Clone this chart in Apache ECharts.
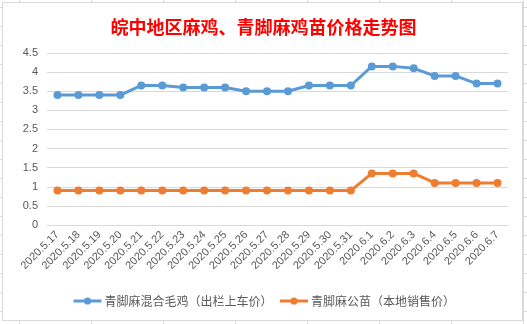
<!DOCTYPE html>
<html>
<head>
<meta charset="utf-8">
<script src="https://cdn.jsdelivr.net/npm/echarts@6/dist/echarts.min.js"></script>
<style>
html,body{margin:0;padding:0;width:527px;height:324px;overflow:hidden;}
body{
  background-color:#fff;
  background-image:
    linear-gradient(to bottom, #dadada 1px, transparent 1px),
    linear-gradient(to right, #dadada 1px, transparent 1px);
  background-size:100% 19px, 72px 100%;
  background-position:0 7px, 19px 0;
}
#frame{position:absolute;left:2px;top:2px;width:519px;height:317px;background:#fff;border:1px solid #d9d9d9;}
#chart{position:absolute;left:0;top:0;width:527px;height:324px;}
</style>
</head>
<body>
<div id="frame"></div>
<div id="chart"></div>
<script>
const titleText = '皖中地区麻鸡、青脚麻鸡苗价格走势图';
const categories = ['2020.5.17','2020.5.18','2020.5.19','2020.5.20','2020.5.21','2020.5.22','2020.5.23','2020.5.24','2020.5.25','2020.5.26','2020.5.27','2020.5.28','2020.5.29','2020.5.30','2020.5.31','2020.6.1','2020.6.2','2020.6.3','2020.6.4','2020.6.5','2020.6.6','2020.6.7'];
const seriesNames = ['青脚麻混合毛鸡（出栏上车价）','青脚麻公苗（本地销售价）'];
const mixedChicken = [3.4,3.4,3.4,3.4,3.65,3.65,3.6,3.6,3.6,3.5,3.5,3.5,3.65,3.65,3.65,4.15,4.15,4.1,3.9,3.9,3.7,3.7];
const maleChicks = [0.9,0.9,0.9,0.9,0.9,0.9,0.9,0.9,0.9,0.9,0.9,0.9,0.9,0.9,0.9,1.35,1.35,1.35,1.1,1.1,1.1,1.1];

const chart = echarts.init(document.getElementById('chart'));
chart.setOption({
  backgroundColor:'transparent',
  animation:false,
  title:{
    text:titleText,
    left:'center',
    top:13,
    textStyle:{color:'#ff0000',fontSize:18,fontWeight:'bold',fontFamily:'Noto Sans CJK SC'}
  },
  legend:{
    bottom:12,
    left:'center',
    itemWidth:28,
    itemHeight:9,
    itemGap:6,
    lineStyle:{width:3},
    textStyle:{color:'#595959',fontSize:12,fontFamily:'Noto Sans CJK SC',padding:[0,0,0,-2]},
    data:seriesNames
  },
  grid:{left:47,right:19,top:53,bottom:99,containLabel:false},
  xAxis:{
    type:'category',
    data:categories,
    boundaryGap:true,
    axisLine:{show:true,lineStyle:{color:'#d9d9d9'}},
    axisTick:{show:false},
    axisLabel:{rotate:45,fontSize:11,color:'#595959',fontFamily:'Liberation Sans',margin:8,interval:0}
  },
  yAxis:{
    type:'value',
    min:0,max:4.5,interval:0.5,
    axisLine:{show:false},
    axisTick:{show:false},
    splitLine:{lineStyle:{color:'#d9d9d9'}},
    axisLabel:{fontSize:11,color:'#595959',fontFamily:'Liberation Sans',margin:9}
  },
  series:[
    {name:seriesNames[0],type:'line',data:mixedChicken,color:'#5b9bd5',
     symbol:'circle',symbolSize:8,lineStyle:{width:3},itemStyle:{color:'#5b9bd5'}},
    {name:seriesNames[1],type:'line',data:maleChicks,color:'#ed7d31',
     symbol:'circle',symbolSize:8,lineStyle:{width:3},itemStyle:{color:'#ed7d31'}}
  ]
});
</script>
</body>
</html>
